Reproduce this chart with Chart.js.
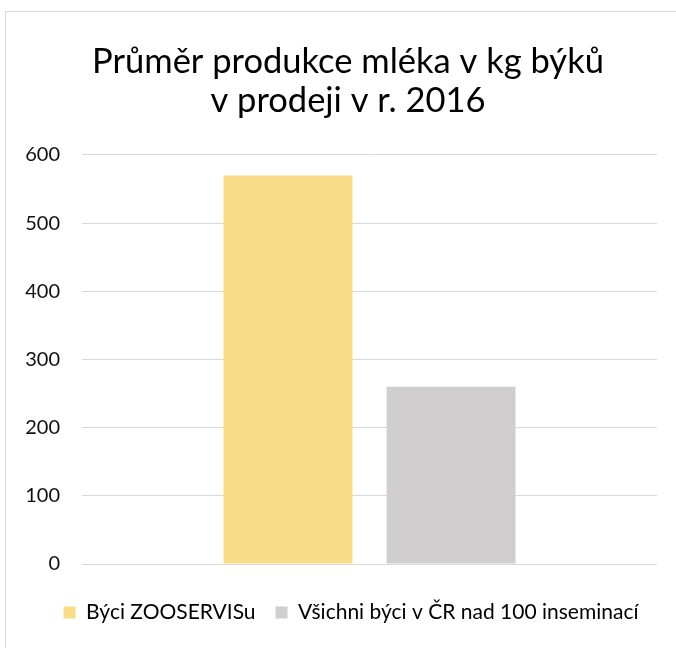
<!DOCTYPE html>
<html>
<head>
<meta charset="utf-8">
<script src="https://cdn.jsdelivr.net/npm/chart.js@4/dist/chart.umd.min.js"></script>
<style>
  html, body { margin: 0; padding: 0; background: #fff; overflow: hidden; }
  #frame { position: absolute; left: 5px; top: 11px; width: 720px; height: 700px; border: 1px solid #d9d9d9; }
  #wrap { position: absolute; left: 0; top: 0; width: 676px; height: 648px; }
</style>
</head>
<body>
<div id="frame"></div>
<div id="wrap"><canvas id="milkChart"></canvas></div>
<script>
// data
const categories = [""];
const seriesNames = ["Býci ZOOSERVISu", "Všichni býci v ČR nad 100 inseminací"];
const zooservisValues = [570];
const allBullsValues = [260];
const yTicks = [0, 100, 200, 300, 400, 500, 600];

const FONT = "Lato, 'Open Sans', sans-serif";

// title and legend sit a bit right of the plot centre in the original
const shiftBlocks = {
  id: "shiftBlocks",
  afterLayout(chart) {
    if (chart.titleBlock) { chart.titleBlock.left += 9.5; chart.titleBlock.right += 9.5; }
    if (chart.legend) { chart.legend.left += 12.5; chart.legend.right += 12.5; }
  },
};

new Chart(document.getElementById("milkChart"), {
  type: "bar",
  data: {
    labels: categories,
    datasets: [
      {
        label: seriesNames[0],
        data: zooservisValues,
        backgroundColor: "#f8dc87",
        categoryPercentage: 0.567,
        barPercentage: 0.791,
      },
      {
        label: seriesNames[1],
        data: allBullsValues,
        backgroundColor: "#d0cece",
        categoryPercentage: 0.567,
        barPercentage: 0.791,
      },
    ],
  },
  options: {
    responsive: true,
    maintainAspectRatio: false,
    animation: false,
    layout: { padding: { left: 20, right: 19, top: 0, bottom: 15 } },
    scales: {
      x: {
        ticks: { display: false },
        grid: { display: false },
        border: { display: false },
        afterFit: (s) => { s.height = 18; },
      },
      y: {
        min: 0,
        max: 600,
        afterBuildTicks: (s) => { s.ticks = yTicks.map((v) => ({ value: v })); },
        afterFit: (s) => { s.width = 62; },
        ticks: { padding: 22, color: "#111", font: { family: FONT, size: 20 } },
        grid: { color: "#d9d9d9", lineWidth: 1, drawTicks: false },
        border: { display: false },
      },
    },
    plugins: {
      title: {
        display: true,
        text: ["Průměr produkce mléka v kg býků", "v prodeji v r. 2016"],
        color: "#000",
        font: { family: FONT, size: 34.5, weight: "normal", lineHeight: 1.13 },
        padding: { top: 42, bottom: 35 },
      },
      legend: {
        display: true,
        position: "bottom",
        labels: {
          boxWidth: 12,
          boxHeight: 12,
          padding: 20,
          color: "#000",
          font: { family: FONT, size: 21 },
        },
      },
      tooltip: { enabled: false },
    },
  },
  plugins: [shiftBlocks],
});
</script>
</body>
</html>
